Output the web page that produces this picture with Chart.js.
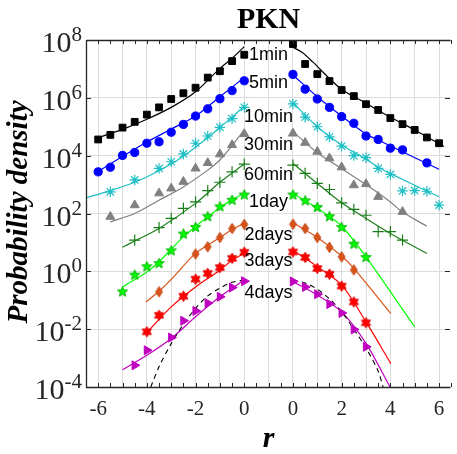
<!DOCTYPE html>
<html>
<head>
<meta charset="utf-8">
<script src="https://cdn.jsdelivr.net/npm/chart.js@4.4.0/dist/chart.umd.min.js"></script>
<style>
  html, body { margin: 0; padding: 0; background: #fff; }
  canvas { display: block; }
</style>
</head>
<body>
<canvas id="pknChart" width="457" height="454"></canvas>
<script>
// === PKN return distributions (log10 of probability density) ===
// left half: r <= 0, right half: r >= 0 drawn shifted by RIGHT_SHIFT on the same axis

const RIGHT_SHIFT = 2;
const horizons = ["1min", "5min", "10min", "30min", "60min", "1day", "2days", "3days", "4days"];

// common r grids for the markers (null = no marker there)
const rLeft = [-6, -5.5, -5, -4.5, -4, -3.5, -3, -2.5, -2, -1.5, -1, -0.5, 0];
const rRight = [0, 0.5, 1, 1.5, 2, 2.5, 3, 3.5, 4, 4.5, 5, 5.5, 6];

const m1minL = [4.56, 4.72, 4.97, 5.17, 5.42, 5.67, 5.96, 6.16, 6.35, 6.70, 6.92, 7.27, 7.49];
const m1minR = [7.86, 7.17, 6.82, 6.58, 6.27, 6.06, 5.78, 5.58, 5.30, 5.09, 4.89, 4.63, 4.43];
const m5minL = [3.44, 3.60, 4.01, 4.11, 4.43, 4.48, 4.81, 5.08, 5.37, 5.62, 5.97, 6.25, 6.59];
const m5minR = [6.81, 6.30, 5.96, 5.67, 5.35, 5.12, 4.68, 4.56, 4.26, 4.20, null, 3.75, null];
const m10minL = [null, 2.75, null, 3.16, null, 3.56, 3.79, 4.06, 4.43, 4.68, 4.98, 5.28, 5.67];
const m10minR = [5.79, 5.33, 5.00, 4.65, 4.33, 4.00, 3.93, 3.56, 3.35, 2.78, 2.79, 2.77, 2.29];
const m30minL = [null, 1.89, null, 2.29, null, 2.70, 2.87, 3.10, 3.56, 3.75, 4.05, 4.37, 4.75];
const m30minR = [4.77, 4.45, 4.14, 3.91, 3.60, 2.98, 3.02, 2.58, null, 2.06, null, null, null];
const m60minL = [null, null, null, 1.08, null, 1.51, 1.83, 2.18, 2.40, 2.79, 3.08, 3.44, 3.71];
const m60minR = [3.67, 3.39, 3.04, 2.83, 2.37, 2.14, 1.94, 1.37, 1.37, 1.08, null, null, null];
const m1dayL = [null, null, -0.71, -0.13, 0.16, 0.27, 0.71, 1.29, 1.52, 1.89, 2.23, 2.46, 2.64];
const m1dayR = [2.64, 2.44, 2.21, 1.89, 1.52, 0.94, 0.48, null, null, null, null, null, null];
const m2daysL = [null, null, null, null, null, -0.71, null, null, 0.60, 0.85, 1.17, 1.48, 1.62];
const m2daysR = [1.63, 1.48, 1.17, 0.83, 0.50, 0.05, null, null, null, null, null, null, null];
const m3daysL = [null, null, null, null, -2.09, -1.52, null, -0.86, -0.27, -0.07, 0.13, 0.45, 0.66];
const m3daysR = [0.67, 0.48, 0.10, -0.10, -0.51, -1.06, -1.78, null, null, null, null, null, null];
const m4daysL = [null, null, null, -3.25, -2.73, null, -2.29, -1.71, -1.37, -1.10, -0.88, -0.56, -0.34];
const m4daysR = [-0.35, -0.54, -0.79, -1.13, -1.44, -2.01, -2.61, null, null, null, null, null, null];

// fitted curves: r positions and log10 density
const f1minL_r = [-6.1, -5, -4, -3, -2, -1, -0.5, 0];
const f1minL_p = [4.60, 4.91, 5.26, 5.67, 6.21, 7.02, 7.37, 7.77];
const f1minR_r = [0, 0.4, 0.8, 1.5, 2, 3, 4, 5, 6.2];
const f1minR_p = [7.75, 7.56, 7.25, 6.67, 6.29, 5.81, 5.33, 4.89, 4.32];
const f5minL_r = [-6.05, -5, -4, -3, -2, -1, 0];
const f5minL_p = [3.43, 3.97, 4.47, 4.92, 5.37, 6.04, 6.70];
const f5minR_r = [0, 1, 2, 3, 3.5, 6];
const f5minR_p = [6.79, 6.04, 5.37, 4.75, 4.54, 3.53];
const f10minL_r = [-6.5, -5.5, -4.5, -3.5, -2.5, -1.5, -1, -0.5, 0];
const f10minL_p = [2.54, 2.79, 3.08, 3.48, 3.98, 4.62, 4.98, 5.33, 5.72];
const f10minR_r = [0, 1, 2, 3, 3.5, 4, 6];
const f10minR_p = [5.83, 5.00, 4.37, 3.88, 3.60, 3.38, 2.58];
const f30minL_r = [-5.5, -4.5, -3.5, -2.5, -1.5, -1, -0.5, 0];
const f30minL_p = [1.71, 2.00, 2.46, 2.92, 3.50, 3.85, 4.35, 4.89];
const f30minR_r = [0, 1, 2, 3, 4, 4.5, 5.5];
const f30minR_p = [4.83, 4.10, 3.55, 3.00, 2.40, 2.05, 1.56];
const f60minL_r = [-5, -4.5, -3.5, -2, -1, 0];
const f60minL_p = [0.83, 1.05, 1.48, 2.35, 3.08, 3.71];
const f60minR_r = [0, 1, 2, 3, 4, 5.5];
const f60minR_p = [3.73, 3.04, 2.37, 1.83, 1.31, 0.62];
const f1dayL_r = [-5, -4, -3.5, -2.5, -1.5, -1, -0.5, 0];
const f1dayL_p = [-0.54, -0.02, 0.33, 1.19, 1.89, 2.20, 2.48, 2.70];
const f1dayR_r = [0, 1, 2, 3, 5];
const f1dayR_p = [2.70, 2.18, 1.56, 0.50, -1.92];
const f2daysL_r = [-4.04, -3.5, -3, -2, -1, -0.5, 0];
const f2daysL_p = [-1.06, -0.69, -0.28, 0.62, 1.17, 1.45, 1.66];
const f2daysR_r = [0, 1, 2, 2.5, 4.02];
const f2daysR_p = [1.68, 1.17, 0.53, 0.10, -1.46];
const f3daysL_r = [-4.04, -3, -2, -1, -0.5, 0];
const f3daysL_p = [-2.15, -1.23, -0.54, 0.04, 0.38, 0.62];
const f3daysR_r = [0, 1, 2, 3, 4.02];
const f3daysR_p = [0.73, 0.16, -0.48, -1.75, -3.19];
const f4daysL_r = [-5, -4, -3, -2, -1, 0];
const f4daysL_p = [-3.40, -2.90, -2.32, -1.57, -0.88, -0.30];
const f4daysR_r = [0, 1, 2, 3, 3.99];
const f4daysR_p = [-0.36, -0.82, -1.40, -2.49, -4.0];

// dashed gaussian reference for 4days
const gaussL_r = [-3.84, -3.5, -3, -2.5, -2, -1.5, -1, -0.5, 0];
const gaussL_p = [-4.0, -3.3, -2.5, -1.83, -1.28, -0.85, -0.58, -0.38, -0.30];
const gaussR_r = [0, 0.5, 1, 1.5, 2, 2.5, 3, 3.5, 3.7];
const gaussR_p = [-0.30, -0.40, -0.62, -0.95, -1.40, -2.0, -2.65, -3.45, -4.0];

// label heights (log10 density) for the horizon names in the middle gap
const labelLogY = [7.48, 6.51, 5.34, 4.38, 3.33, 2.41, 1.25, 0.34, -0.74];
const yExponents = [-4, -2, 0, 2, 4, 6, 8];

// === marker images for styles chart.js doesn't have ===
function starImage(n, outerR, innerR, fill, stroke) {
  const size = Math.ceil(outerR * 2 + 4);
  const c = document.createElement("canvas");
  c.width = size; c.height = size;
  const g = c.getContext("2d");
  const cx = size / 2;
  g.beginPath();
  for (let i = 0; i < n * 2; i++) {
    const rad = i % 2 ? innerR : outerR;
    const ang = -Math.PI / 2 + (i * Math.PI) / n;
    g.lineTo(cx + rad * Math.cos(ang), cx + rad * Math.sin(ang));
  }
  g.closePath();
  g.fillStyle = fill; g.fill();
  g.strokeStyle = stroke; g.lineWidth = 1; g.stroke();
  return c;
}

const styles = [
  { color: "#000000", point: "rect", radius: 4.8 },
  { color: "#0000FF", point: "circle", radius: 4.1 },
  { color: "#1DBFC4", point: "star", radius: 5.2, border: 1.2 },
  { color: "#808080", point: "triangle", radius: 5.2 },
  { color: "#1A7F1A", point: "cross", radius: 5.6, border: 1.2 },
  { color: "#00FF00", point: starImage(5, 5.4, 2.3, "#00FF00", "#00B400") },
  { color: "#D95319", point: starImage(2, 5.2, 3.4, "#D95319", "#C04810") },
  { color: "#FF0000", point: starImage(6, 5.3, 3.0, "#FF0000", "#E00000") },
  { color: "#BF00BF", point: "triangle", radius: 5.2, rotation: 90 },
];

const markersLeft = [m1minL, m5minL, m10minL, m30minL, m60minL, m1dayL, m2daysL, m3daysL, m4daysL];
const markersRight = [m1minR, m5minR, m10minR, m30minR, m60minR, m1dayR, m2daysR, m3daysR, m4daysR];
const fitsLeft = [[f1minL_r, f1minL_p], [f5minL_r, f5minL_p], [f10minL_r, f10minL_p], [f30minL_r, f30minL_p],
  [f60minL_r, f60minL_p], [f1dayL_r, f1dayL_p], [f2daysL_r, f2daysL_p], [f3daysL_r, f3daysL_p], [f4daysL_r, f4daysL_p]];
const fitsRight = [[f1minR_r, f1minR_p], [f5minR_r, f5minR_p], [f10minR_r, f10minR_p], [f30minR_r, f30minR_p],
  [f60minR_r, f60minR_p], [f1dayR_r, f1dayR_p], [f2daysR_r, f2daysR_p], [f3daysR_r, f3daysR_p], [f4daysR_r, f4daysR_p]];

function toPoints(rs, logs, shift) {
  const out = [];
  rs.forEach((r, i) => {
    if (logs[i] !== null) out.push({ x: r + shift, y: Math.pow(10, logs[i]) });
  });
  return out;
}

// === datasets ===
const datasets = [];
horizons.forEach((name, k) => {
  const s = styles[k];
  [[fitsLeft[k], 0], [fitsRight[k], RIGHT_SHIFT]].forEach(([f, shift]) => {
    datasets.push({
      label: name + " fit",
      data: toPoints(f[0], f[1], shift),
      showLine: true, pointRadius: 0,
      borderColor: s.color, borderWidth: 1.2, tension: 0.3, order: 2,
    });
  });
  [[rLeft, markersLeft[k], 0], [rRight, markersRight[k], RIGHT_SHIFT]].forEach(([rs, m, shift]) => {
    datasets.push({
      label: name,
      data: toPoints(rs, m, shift),
      showLine: false,
      pointStyle: s.point,
      pointRadius: s.radius || 6,
      pointRotation: s.rotation || 0,
      pointBackgroundColor: s.color,
      pointBorderColor: s.color,
      pointBorderWidth: s.border || 1,
      order: 0,
    });
  });
});
[[gaussL_r, gaussL_p, 0], [gaussR_r, gaussR_p, RIGHT_SHIFT]].forEach(([rs, ps, shift]) => {
  datasets.push({
    label: "gaussian",
    data: toPoints(rs, ps, shift),
    showLine: true, pointRadius: 0,
    borderColor: "#000000", borderWidth: 1.1, borderDash: [5, 4], tension: 0.3, order: 1,
  });
});

// === frame, inward ticks and texts ===
const decorPlugin = {
  id: "decor",
  afterDraw(chart) {
    const { ctx, chartArea: a, scales: { x, y } } = chart;
    ctx.save();
    ctx.strokeStyle = "#262626";
    ctx.lineWidth = 1.3;
    ctx.beginPath();
    ctx.moveTo(a.left + 0.5, a.top + 0.5);
    ctx.lineTo(a.right + 0.5, a.top + 0.5);
    ctx.moveTo(a.left + 0.5, a.top);
    ctx.lineTo(a.left + 0.5, a.bottom + 0.5);
    ctx.lineTo(a.right + 0.5, a.bottom + 0.5);
    ctx.stroke();

    ctx.lineWidth = 1;
    ctx.beginPath();
    for (let v = -6.5; v <= 8.5; v += 0.5) {
      const px = Math.round(x.getPixelForValue(v)) + 0.5;
      ctx.moveTo(px, a.bottom); ctx.lineTo(px, a.bottom - 4);
      ctx.moveTo(px, a.top); ctx.lineTo(px, a.top + 4);
    }
    yExponents.forEach((e) => {
      const py = Math.round(y.getPixelForValue(Math.pow(10, e))) + 0.5;
      ctx.moveTo(a.left, py); ctx.lineTo(a.left + 5, py);
      ctx.moveTo(a.right, py); ctx.lineTo(a.right - 5, py);
    });
    ctx.stroke();

    // y tick labels as 10^e
    ctx.fillStyle = "#262626";
    ctx.textAlign = "right";
    ctx.textBaseline = "alphabetic";
    yExponents.forEach((e) => {
      const py = y.getPixelForValue(Math.pow(10, e));
      const exp = String(e);
      ctx.font = '21px "Liberation Serif"';
      const ew = ctx.measureText(exp).width;
      ctx.fillText(exp, 82, py + 1);
      ctx.font = '30px "Liberation Serif"';
      ctx.fillText("10", 82 - ew, py + 12);
    });

    // horizon names
    ctx.fillStyle = "#000000";
    ctx.textAlign = "center";
    ctx.textBaseline = "middle";
    ctx.font = '18px "Liberation Sans"';
    const midX = x.getPixelForValue(RIGHT_SHIFT / 2);
    horizons.forEach((name, k) => {
      ctx.fillText(name, midX, y.getPixelForValue(Math.pow(10, labelLogY[k])));
    });

    // title and axis titles
    ctx.textBaseline = "alphabetic";
    ctx.font = 'bold 30px "Liberation Serif"';
    ctx.fillText("PKN", midX, 28);
    ctx.font = 'italic bold 30px "Liberation Serif"';
    ctx.fillText("r", midX, 447);
    ctx.save();
    ctx.translate(27, 212);
    ctx.rotate(-Math.PI / 2);
    ctx.font = 'italic bold 29px "Liberation Serif"';
    ctx.fillText("Probability density", 0, 0);
    ctx.restore();
    ctx.restore();
  },
};

new Chart(document.getElementById("pknChart"), {
  type: "scatter",
  data: { datasets },
  options: {
    responsive: false,
    animation: false,
    events: [],
    devicePixelRatio: 1,
    layout: { padding: { top: 40, left: 0, right: 0, bottom: 0 } },
    plugins: { legend: { display: false }, tooltip: { enabled: false }, title: { display: false } },
    scales: {
      x: {
        type: "linear",
        min: -6.5,
        max: 8.45,
        afterBuildTicks: (scale) => {
          const t = [];
          for (let v = -6.5; v <= 8; v += 0.5) t.push({ value: v });
          scale.ticks = t;
        },
        afterFit: (scale) => { scale.height = 67; },
        border: { display: false },
        grid: {
          drawTicks: false,
          lineWidth: 1,
          color: (c) => (c.tick && Number.isInteger(c.tick.value) ? "#dcdcdc" : "rgba(0,0,0,0)"),
        },
        ticks: {
          autoSkip: false,
          maxRotation: 0,
          padding: 10,
          color: "#262626",
          font: { family: "Liberation Serif", size: 21 },
          callback: (v) => (Number.isInteger(v) && v % 2 === 0 ? String(v <= 0 ? v : v - RIGHT_SHIFT) : ""),
        },
      },
      y: {
        type: "logarithmic",
        min: 1e-4,
        max: 1e8,
        afterBuildTicks: (scale) => {
          scale.ticks = yExponents.map((e) => ({ value: Math.pow(10, e) }));
        },
        afterFit: (scale) => { scale.width = 86; },
        border: { display: false },
        grid: {
          drawTicks: false,
          lineWidth: 1,
          color: (c) => (c.tick && (c.tick.value <= 1e-4 || c.tick.value >= 1e8) ? "rgba(0,0,0,0)" : "#dcdcdc"),
        },
        ticks: { display: false },
      },
    },
  },
  plugins: [decorPlugin],
});
</script>
</body>
</html>
